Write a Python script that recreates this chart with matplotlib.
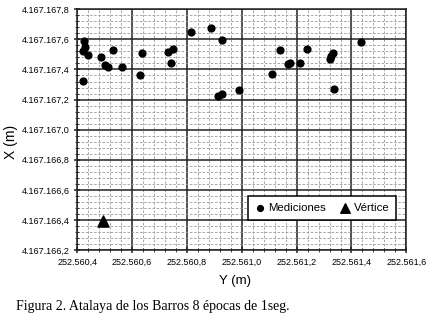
import matplotlib.pyplot as plt
import numpy as np
from matplotlib.ticker import MultipleLocator, FuncFormatter

# Mediciones: Y (easting) and X (northing), m
y_med = [252560.426, 252560.428, 252560.422, 252560.440, 252560.420,
         252560.485, 252560.502, 252560.511, 252560.531, 252560.563,
         252560.629, 252560.636, 252560.730, 252560.748, 252560.743,
         252560.816, 252560.889, 252560.927, 252560.912, 252560.926,
         252560.991, 252561.111, 252561.140, 252561.167, 252561.174,
         252561.212, 252561.236, 252561.320, 252561.327, 252561.334,
         252561.336, 252561.436]
x_med = [4167167.591, 4167167.551, 4167167.523, 4167167.496, 4167167.324,
         4167167.481, 4167167.428, 4167167.415, 4167167.532, 4167167.419,
         4167167.365, 4167167.508, 4167167.514, 4167167.536, 4167167.443,
         4167167.649, 4167167.678, 4167167.594, 4167167.222, 4167167.235,
         4167167.266, 4167167.368, 4167167.528, 4167167.439, 4167167.445,
         4167167.445, 4167167.534, 4167167.472, 4167167.492, 4167167.512,
         4167167.270, 4167167.581]

# Vertice
y_vert = [252560.494]
x_vert = [4167166.393]


def fmt_es(v, pos):
    s = "{:,.1f}".format(v)
    return s.replace(",", "X").replace(".", ",").replace("X", ".")


plt.rcParams["font.family"] = ["Liberation Sans", "DejaVu Sans"]

fig = plt.figure(figsize=(4.48, 3.21), dpi=100)
ax = fig.add_axes([0.1725, 0.2212, 0.7345, 0.7498])

ax.scatter(y_med, x_med, s=24, color="black", marker="o", label="Mediciones", zorder=3)
ax.scatter(y_vert, x_vert, s=65, color="black", marker="^", label="Vértice", zorder=3)

ax.set_xlim(252560.4, 252561.6)
ax.set_ylim(4167166.2, 4167167.8)
ax.xaxis.set_major_locator(MultipleLocator(0.2))
ax.yaxis.set_major_locator(MultipleLocator(0.2))
ax.xaxis.set_minor_locator(MultipleLocator(0.04))
ax.yaxis.set_minor_locator(MultipleLocator(0.04))
ax.xaxis.set_major_formatter(FuncFormatter(fmt_es))
ax.yaxis.set_major_formatter(FuncFormatter(fmt_es))

ax.grid(which="major", color="#222222", linewidth=1.1)
ax.grid(which="minor", color="#999999", linewidth=0.6, linestyle=(0, (3, 2)))
ax.set_axisbelow(True)
ax.tick_params(which="both", direction="inout", labelsize=6.5, color="#222222")
ax.tick_params(which="major", length=5, width=1.1, pad=3)
ax.tick_params(which="minor", length=3, width=0.6)
for sp in ax.spines.values():
    sp.set_color("#222222")
    sp.set_linewidth(1.1)

ax.set_xlabel("Y (m)", fontsize=9.5)
ax.set_ylabel("X (m)", fontsize=10)
ax.xaxis.set_label_coords(0.48, -0.104)
ax.yaxis.set_label_coords(-0.18, 0.45)

leg = ax.legend(loc="lower right", bbox_to_anchor=(0.9687, 0.1257), ncol=2,
                fontsize=8.2, frameon=True, fancybox=False, framealpha=1,
                edgecolor="black", handletextpad=0.25, columnspacing=1.3,
                borderpad=0.6, borderaxespad=0, handlelength=0.9,
                markerscale=0.85)
leg.get_frame().set_linewidth(1.1)

fig.text(0.036, 0.044, "Figura 2. Atalaya de los Barros 8 épocas de 1seg.",
         fontsize=10, va="center", family=["Liberation Serif", "DejaVu Serif"])

fig.savefig("out.png", dpi=100)
